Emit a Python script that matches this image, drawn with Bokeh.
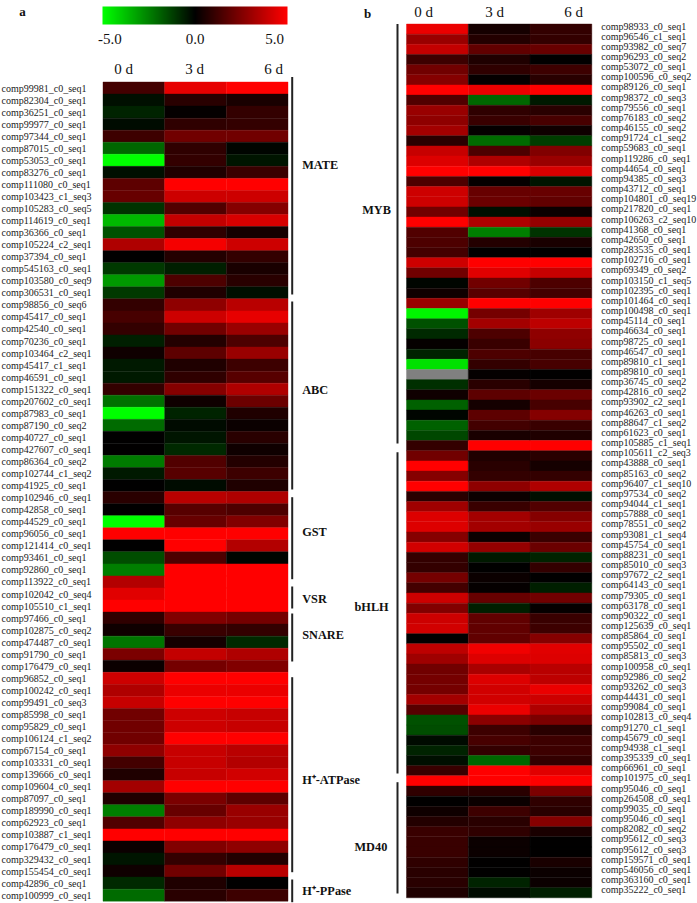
from bokeh.plotting import figure
from bokeh.models import (ColumnDataSource, Range1d, LinearColorMapper, ColorBar, FixedTicker)
from bokeh.embed import file_html
from bokeh.resources import INLINE
from bokeh.core.properties import value

nan = float("nan")
days = ["0 d", "3 d", "6 d"]
a_ids = ["comp99981_c0_seq1","comp82304_c0_seq1","comp36251_c0_seq1","comp99977_c0_seq1","comp97344_c0_seq1","comp87015_c0_seq1","comp53053_c0_seq1","comp83276_c0_seq1","comp111080_c0_seq1","comp103423_c1_seq3","comp105283_c0_seq5","comp114619_c0_seq1","comp36366_c0_seq1","comp105224_c2_seq1","comp37394_c0_seq1","comp545163_c0_seq1","comp103580_c0_seq9","comp306531_c0_seq1",
"comp98856_c0_seq6","comp45417_c0_seq1","comp42540_c0_seq1","comp70236_c0_seq1","comp103464_c2_seq1","comp45417_c1_seq1","comp46591_c0_seq1","comp151322_c0_seq1","comp207602_c0_seq1","comp87983_c0_seq1","comp87190_c0_seq2","comp40727_c0_seq1","comp427607_c0_seq1","comp86364_c0_seq2","comp102744_c1_seq2","comp41925_c0_seq1",
"comp102946_c0_seq1","comp42858_c0_seq1","comp44529_c0_seq1","comp96056_c0_seq1","comp121414_c0_seq1","comp93461_c0_seq1","comp92860_c0_seq1",
"comp113922_c0_seq1","comp102042_c0_seq4","comp105510_c1_seq1",
"comp97466_c0_seq1","comp102875_c0_seq2","comp474487_c0_seq1","comp91790_c0_seq1","comp176479_c0_seq1",
"comp96852_c0_seq1","comp100242_c0_seq1","comp99491_c0_seq3","comp85998_c0_seq1","comp95829_c0_seq1","comp106124_c1_seq2","comp67154_c0_seq1","comp103331_c0_seq1","comp139666_c0_seq1","comp109604_c0_seq1","comp87097_c0_seq1","comp189990_c0_seq1","comp62923_c0_seq1","comp103887_c1_seq1","comp176479_c0_seq1","comp329432_c0_seq1","comp155454_c0_seq1",
"comp42896_c0_seq1","comp100999_c0_seq1"]
a_0d = [1.3,-0.3,-0.7,-0.2,1.2,-2.0,-5,-0.3,1.8,2.0,-1.0,-3.6,-1.6,3.4,0,-1.1,-3.0,-1.1,
1.0,1.4,1.0,-0.6,0.3,-0.5,-0.5,1.0,-2.2,-5,-2.1,0,0,-2.4,-0.5,0,
0.8,0,-5,5,0,-1.5,-2.5,
3.5,4.4,5,
0.9,0.3,-2.3,2.4,0.2,
4.0,3.4,3.9,2.2,2.2,2.2,2.8,1.3,0.6,3.2,0.6,-2.5,1.6,5,0.2,-0.4,0.3,
-0.8,-2.1]
a_3d = [4.5,0.8,0.1,0.9,2.2,0.9,1.0,0.6,5,4.0,1.6,3.8,0.9,4.8,0.7,-0.6,1.5,0.6,
2.8,4.0,2.2,0.7,1.8,0.6,0.9,2.6,0.3,-0.7,-0.2,-0.4,-0.8,1.6,1.7,-0.2,
3.6,1.7,2.0,5,5,1.5,5,
5,5,5,
2.5,1.1,0.4,3.8,2.3,
5,4.6,5,4.0,4.0,5,3.9,3.9,3.9,5,2.4,2.0,2.8,5,2.5,1.0,2.2,
0.6,0.8]
a_6d = [5,0.5,1.0,1.0,2.2,-0.1,-0.4,1.1,5,4.0,2.6,4.2,0.4,4.0,1.0,0.5,0.8,-0.3,
3.6,4.5,3.0,1.5,3.0,1.2,1.7,3.4,2.1,0.6,0.2,0.8,0.3,0.7,1.2,0.6,
3.4,1.5,2.5,5,3.5,-0.1,5,
5,5,5,
2.3,1.0,-0.8,3.4,2.5,
5,4.6,5,3.9,3.9,5,3.6,3.5,4.1,5,1.8,3.0,3.0,5,2.8,0.7,3.6,
0.0,1.2]
a_groups = ["MATE","ABC","GST","VSR","SNARE","H\u207a-ATPase","H\u207a-PPase"]

b_ids = ["comp98933_c0_seq1","comp96546_c1_seq1","comp93982_c0_seq7","comp96293_c0_seq2","comp53072_c0_seq1","comp100596_c0_seq2","comp89126_c0_seq1","comp98372_c0_seq3","comp79556_c0_seq1","comp76183_c0_seq2","comp46155_c0_seq2","comp91724_c1_seq2","comp59683_c0_seq1","comp119286_c0_seq1","comp44654_c0_seq1","comp94385_c0_seq3","comp43712_c0_seq1","comp104801_c0_seq19","comp217820_c0_seq1","comp106263_c2_seq10","comp41368_c0_seq1","comp42650_c0_seq1","comp283535_c0_seq1","comp102716_c0_seq1","comp69349_c0_seq2","comp103150_c1_seq5","comp102395_c0_seq1","comp101464_c0_seq1","comp100498_c0_seq1","comp45114_c0_seq1","comp46634_c0_seq1","comp98725_c0_seq1","comp46547_c0_seq1","comp89810_c1_seq1","comp89810_c0_seq1","comp36745_c0_seq2","comp42816_c0_seq2","comp93902_c2_seq1","comp46263_c0_seq1","comp88647_c1_seq2","comp61623_c0_seq1","comp105885_c1_seq1",
"comp105611_c2_seq3","comp43888_c0_seq1","comp85163_c0_seq2","comp96407_c1_seq10","comp97534_c0_seq2","comp94044_c1_seq1","comp57888_c0_seq1","comp78551_c0_seq2","comp93081_c1_seq4","comp45754_c0_seq1","comp88231_c0_seq1","comp85010_c0_seq3","comp97672_c2_seq1","comp64143_c0_seq1","comp79305_c0_seq1","comp63178_c0_seq1","comp90322_c0_seq1","comp125639_c0_seq1","comp85864_c0_seq1","comp95502_c0_seq1","comp85813_c0_seq3","comp100958_c0_seq1","comp92986_c0_seq2","comp93262_c0_seq3","comp44431_c0_seq1","comp99084_c0_seq1","comp102813_c0_seq4","comp91270_c1_seq1","comp45679_c0_seq1","comp94938_c1_seq1","comp395339_c0_seq1","comp66961_c0_seq1",
"comp101975_c0_seq1","comp95046_c0_seq1","comp264508_c0_seq1","comp99035_c0_seq1","comp95046_c0_seq1","comp82082_c0_seq2","comp95612_c0_seq3","comp95612_c0_seq3","comp159571_c0_seq1","comp546056_c0_seq1","comp363160_c0_seq1","comp35222_c0_seq1"]
b_0d = [4.6,3.0,3.8,1.2,2.2,2.6,5,1.6,3.0,2.8,3.2,0.8,3.9,4.3,5,1.5,4,4,2.2,5,1.6,1.5,1.3,4,2.2,-0.1,0.3,3,-4.8,-1.6,-0.8,0.1,-0.7,-4.4,nan,-0.9,0.3,-1.9,-0.1,-1.9,-1.4,1.0,
2.2,5,2.6,5,0.8,3.1,4.3,4.3,2.6,4.1,1.0,1.0,2.3,1.3,4.0,2.5,4.0,4.1,0,3.7,3.1,2.2,2.3,2.3,3.2,1.7,-1.6,-1.5,-0.2,-0.7,-0.3,1.1,
5,0.9,0,0.3,0.7,1.1,1.1,1.1,0.9,0.8,0.8,0.6]
b_3d = [0.4,0.7,1.9,0.6,0.9,0.1,4.6,-2.0,0.9,1.1,0.1,-2.1,1.5,3.4,5,0.1,2,2.1,-0.3,3.4,-2.5,0.7,0,5,4.4,2.2,1.7,5,2.3,3.2,1.5,1.1,1.5,1.0,0.1,0.8,1.8,0.4,1.8,1.3,0.5,5,
0.6,0.8,1.0,2.8,0.2,1.1,3.2,3.2,0.2,2.9,-0.5,0.0,0.2,0.1,2.0,-0.6,1.9,1.9,1.9,4.7,4.3,3.3,4.3,4.1,4.1,4.6,2.7,1.2,1.4,1.0,-2.0,5,
5,0.8,0.2,1.2,0.8,0.9,0.2,0.2,0,0,-0.7,-0.2]
b_6d = [1.0,1.0,2.0,0,1.2,0.8,5,-0.5,0.8,1.4,0.3,-1.2,2.5,3.0,4.2,-0.4,2,1.9,0.2,2.9,-1.0,0.5,0,5,3.9,1.5,1.3,5,3.1,3.7,2.8,2.7,1.4,1.4,0,0.4,2.1,1.4,2.6,1.1,0.6,5,
0.8,0.4,1.0,3.4,-0.3,1.6,2.6,3.0,1.1,2.1,-0.7,1.0,0,-0.6,2.2,0.1,1.1,1.2,2.6,4.4,4.3,3.6,3.7,4.6,4.0,3.4,2.4,0.8,1.2,1.2,1.0,4.4,
5,2.4,0.9,0.8,2.6,0.5,0,0,0.5,0.2,0.2,-0.6]
b_groups = ["MYB","bHLH","MD40"]
scale_ticks = ["-5.0", "0.0", "5.0"]

# ---- layout, all in the reference picture's pixels ----
W, H = 697, 903
XL, XH, YT, YB = 0.0, 697.0, 0.0, 903.0
A_BOX = (102.5, 287.5, 81.5, 900.7)
B_BOX = (406.0, 591.3, 23.5, 897.3)
SERIF = "Liberation Serif"
a_brackets = [(76.5,294),(301,489),(496.7,578.7),(586,608),(613,661),(676.7,871.7),(879,901.7)]
a_group_y = [164,389,531,598.7,634.7,779,890]
b_brackets = [(23.5,443),(451.7,773),(781.7,893)]
b_group_xy = [(361.7,209),(354,606),(354,846)]
a_head_x, a_head_y = [123,194,273], 68.5
b_head_x, b_head_y = [423,494,573], 11
a_label_y_shift, b_label_y_shift = 0.0, -0.30

p = figure(width=W, height=H, output_backend="svg", toolbar_location=None,
           x_range=Range1d(XL, XH), y_range=Range1d(YB, YT),
           x_axis_type=None, y_axis_type=None, min_border=0,
           outline_line_color=None, background_fill_color="white")
p.grid.visible = False

def extra(box, ncol, nrow, name):
    x0, x1, y0, y1 = box
    kx = (x1 - x0) / ncol
    ky = (y1 - y0) / nrow
    p.extra_x_ranges[name] = Range1d((XL - x0) / kx, (XH - x0) / kx)
    p.extra_y_ranges[name] = Range1d((YB - y0) / ky, (YT - y0) / ky)

greens = ["#00%02x00" % v for v in range(255, -1, -2)]
reds = ["#%02x0000" % v for v in range(1, 256, 2)]
mapper = LinearColorMapper(palette=greens + reds, low=-5, high=5, nan_color="#808080")

def panel(name, box, ids, cols, label_x, y_shift):
    extra(box, len(cols), len(ids), name)
    xs, ys, vs = [], [], []
    for c, col in enumerate(cols):
        for r, v in enumerate(col):
            xs.append(c + 0.5)
            ys.append(r + 0.5)
            vs.append(v)
    src = ColumnDataSource(dict(x=xs, y=ys, v=vs))
    p.rect("x", "y", width=1, height=1, source=src, x_range_name=name, y_range_name=name,
           fill_color={"field": "v", "transform": mapper},
           line_color={"field": "v", "transform": mapper}, line_width=0.4)
    lab = ColumnDataSource(dict(x=[label_x] * len(ids),
                                y=[i + 0.5 + y_shift for i in range(len(ids))], t=ids))
    p.text("x", "y", text="t", source=lab, y_range_name=name,
           text_font=value(SERIF), text_font_size="10px", text_color="#1a1a1a",
           text_baseline="middle", text_align="left")

panel("a", A_BOX, a_ids, [a_0d, a_3d, a_6d], 1.0, a_label_y_shift)
panel("b", B_BOX, b_ids, [b_0d, b_3d, b_6d], 600.7, b_label_y_shift)

def texts(xs, ys, ts, size, style="normal", align="center"):
    p.text(xs, ys, text=ts, text_font=value(SERIF), text_font_size=size,
           text_font_style=style, text_color="#111111", text_baseline="middle", text_align=align)

texts(a_head_x, [a_head_y] * 3, days, "15px")
texts(b_head_x, [b_head_y] * 3, days, "15px")
texts([22, 367], [11, 13], ["a", "b"], "13px", "bold")

p.segment([291.7] * len(a_brackets), [b[0] for b in a_brackets],
          [291.7] * len(a_brackets), [b[1] for b in a_brackets], line_color="#222222", line_width=2)
p.segment([397] * len(b_brackets), [b[0] for b in b_brackets],
          [397] * len(b_brackets), [b[1] for b in b_brackets], line_color="#222222", line_width=2)
texts([301.7] * len(a_groups), a_group_y, a_groups, "12.3px", "bold", "left")
texts([g[0] for g in b_group_xy], [g[1] for g in b_group_xy], b_groups, "12.3px", "bold", "left")

# colour scale
tick_pos = [-4.6, 0.0, 4.3]
cb = ColorBar(color_mapper=mapper, orientation="horizontal",
              width=185, height=18,
              location=(102, H - 46),
              padding=0, margin=0, background_fill_color=None, border_line_color=None,
              major_tick_line_color=None, minor_tick_line_color=None, bar_line_color=None,
              ticker=FixedTicker(ticks=tick_pos),
              major_label_overrides={k: v for k, v in zip(tick_pos, scale_ticks)},
              major_label_text_font=SERIF, major_label_text_font_size="15px",
              major_label_text_color="#111111", label_standoff=9)
p.add_layout(cb, "center")

open("out.html", "w").write(file_html(p, INLINE))
